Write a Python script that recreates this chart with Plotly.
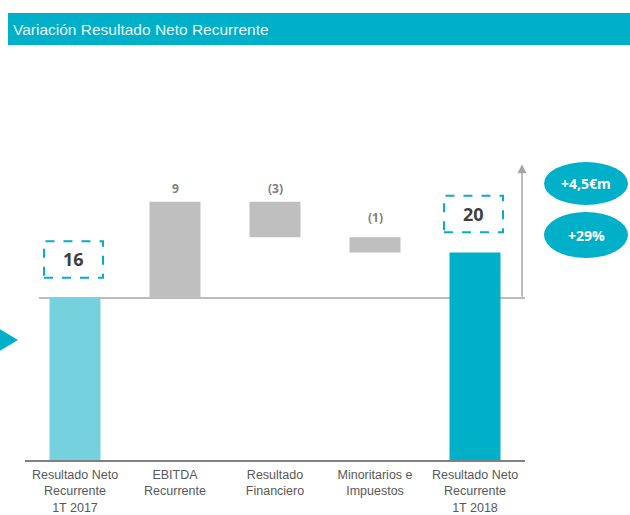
import plotly.graph_objects as go

# ---- data ----
categories = ["Resultado Neto<br>Recurrente<br>1T 2017", "EBITDA<br>Recurrente",
              "Resultado<br>Financiero", "Minoritarios e<br>Impuestos",
              "Resultado Neto<br>Recurrente<br>1T 2018"]
start_value = 16.0
deltas = [9.5, -3.5, -1.5]
delta_labels = ["9", "(3)", "(1)"]
start_label = "16"
end_label = "20"
badges = ["+4,5€m", "+29%"]
title = "Variación Resultado Neto Recurrente"

# ---- derived waterfall geometry ----
end_value = start_value + sum(deltas)
bases, heights = [], []
run = start_value
for d in deltas:
    bases.append(run if d >= 0 else run + d)
    heights.append(abs(d))
    run += d

# ---- layout constants (pixels) ----
W, H = 630, 515
ML, MR, MT, MB = 25, 105, 60, 55
PW, PH = W - ML - MR, H - MT - MB
YMAX = 39.5

def pxx(p):
    return (p - ML) / PW

def pxy(p):
    return (H - MB - p) / PH

CYAN = "#00afc8"
LIGHT = "#75d1de"
GRAY = "#bfbfbf"

fig = go.Figure()
fig.add_trace(go.Bar(x=[categories[0]], y=[start_value], base=[0],
                     marker=dict(color=LIGHT, line=dict(width=0)), width=0.51))
fig.add_trace(go.Bar(x=categories[1:4], y=heights, base=bases,
                     marker=dict(color=GRAY, line=dict(width=0)), width=0.51))
fig.add_trace(go.Bar(x=[categories[4]], y=[end_value], base=[0],
                     marker=dict(color=CYAN, line=dict(width=0)), width=0.51))

shapes = []
annotations = []

# title bar
shapes.append(dict(type="rect", xref="paper", yref="paper",
                   x0=pxx(8), x1=pxx(632), y0=pxy(45), y1=pxy(13),
                   fillcolor=CYAN, line=dict(width=0), layer="below"))
annotations.append(dict(xref="paper", yref="paper", x=pxx(11), y=pxy(29),
                        xanchor="left", yanchor="middle", showarrow=False,
                        text=title, font=dict(family="Liberation Sans", size=15.5, color="#e8f8fb")))

# left triangle
shapes.append(dict(type="path", xref="paper", yref="paper",
                   path=f"M {pxx(-2)},{pxy(328)} L {pxx(18)},{pxy(340)} L {pxx(-2)},{pxy(352)} Z",
                   fillcolor=CYAN, line=dict(width=0)))

# reference line at start level
shapes.append(dict(type="line", xref="x", yref="y", x0=-0.36, x1=4.5,
                   y0=start_value, y1=start_value,
                   line=dict(color="#a6a6a6", width=1.5), layer="below"))

# arrow
annotations.append(dict(xref="x", yref="y", axref="x", ayref="y",
                        x=4.47, y=29.2, ax=4.47, ay=start_value,
                        showarrow=True, arrowhead=2, arrowsize=1.2, arrowwidth=1.5,
                        arrowcolor="#a6a6a6", text=""))

# dashed boxes with totals
for xi, val, lab in [(0, start_value, start_label), (4, end_value, end_label)]:
    y0 = val + 2.0
    shapes.append(dict(type="rect", xref="x", yref="y",
                       x0=xi - 0.31, x1=xi + 0.28, y0=y0, y1=y0 + 3.6,
                       line=dict(color=CYAN, width=2, dash="dash"), fillcolor="rgba(0,0,0,0)"))
    annotations.append(dict(xref="x", yref="y", x=xi - 0.015, y=y0 + 1.8,
                            xanchor="center", showarrow=False, text=f"<b>{lab}</b>",
                            font=dict(family="Open Sans", size=18, color="#404040")))

# delta labels
run = start_value
shifts = [3, 3, 9]
for i, (d, lab) in enumerate(zip(deltas, delta_labels)):
    top = max(run, run + d)
    annotations.append(dict(xref="x", yref="y", x=i + 1, y=top, yanchor="bottom",
                            xanchor="center", yshift=shifts[i], showarrow=False,
                            text=f"<b>{lab}</b>",
                            font=dict(family="Open Sans", size=12, color="#7f7f7f")))
    run += d

# badges
for lab, (yt, yb) in zip(badges, [(162, 205), (212, 258)]):
    shapes.append(dict(type="circle", xref="paper", yref="paper",
                       x0=pxx(544), x1=pxx(628), y0=pxy(yb), y1=pxy(yt),
                       fillcolor=CYAN, line=dict(width=0)))
    annotations.append(dict(xref="paper", yref="paper", x=pxx(586), y=pxy((yt + yb) / 2),
                            xanchor="center", yanchor="middle", showarrow=False,
                            text=f"<b>{lab}</b>",
                            font=dict(family="Open Sans", size=14, color="white")))

fig.update_layout(
    width=W, height=H,
    margin=dict(l=ML, r=MR, t=MT, b=MB, autoexpand=False),
    paper_bgcolor="white", plot_bgcolor="white",
    showlegend=False, barmode="overlay",
    shapes=shapes, annotations=annotations,
    xaxis=dict(range=[-0.5, 4.5], showline=True, linecolor="#808080", linewidth=2,
               showgrid=False, ticks="", fixedrange=True, ticklabelstandoff=2,
               automargin=False,
               tickfont=dict(family="Liberation Sans", size=12.5, color="#595959")),
    yaxis=dict(range=[0, YMAX], visible=False, showgrid=False, fixedrange=True,
               automargin=False),
)

fig.write_html("out.html", config={"displayModeBar": False},
               post_script="document.body.style.margin='0';document.body.style.overflow='hidden';")
